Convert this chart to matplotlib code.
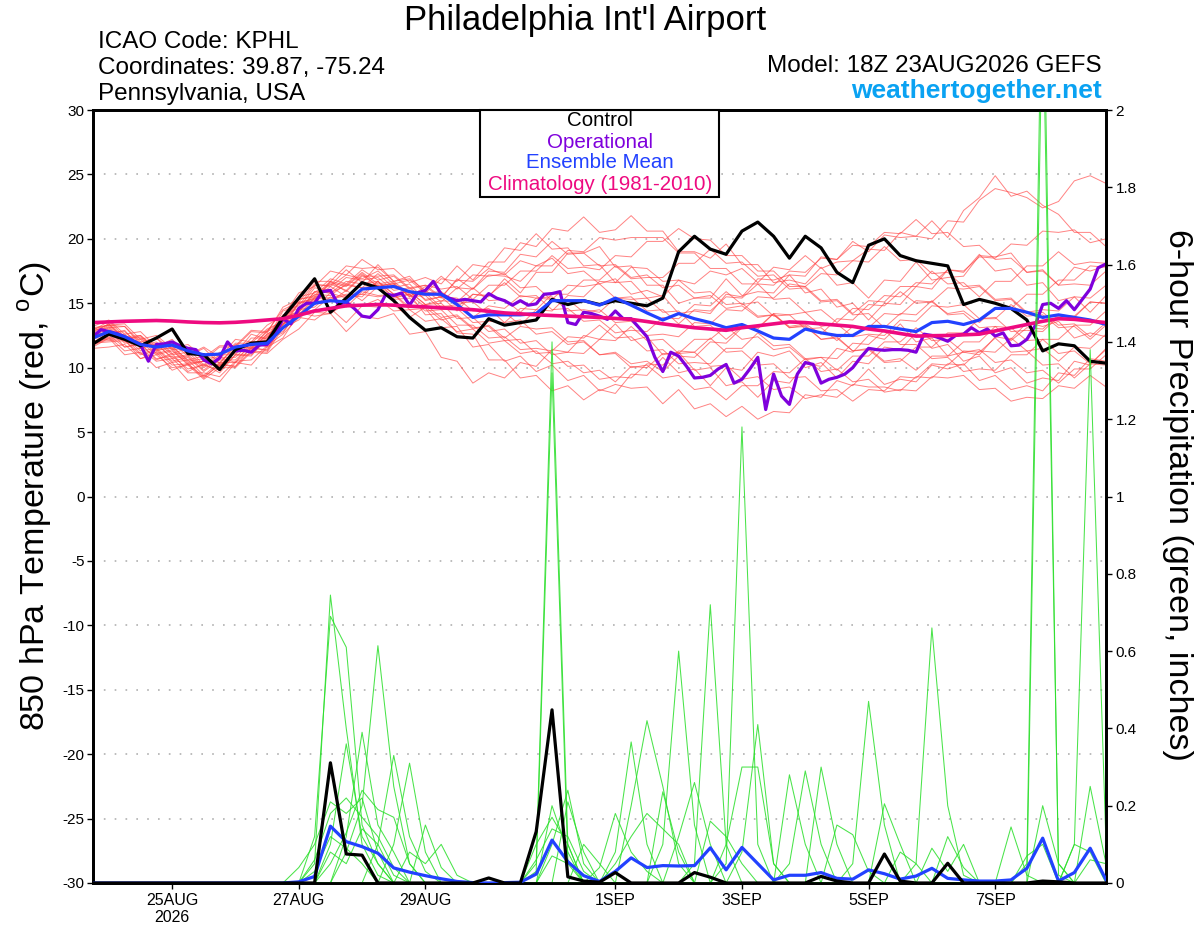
import numpy as np
import matplotlib
matplotlib.use('Agg')
import matplotlib.pyplot as plt
from matplotlib.patches import Rectangle
from matplotlib.ticker import FormatStrFormatter

# ---------------- data ----------------
t0 = np.datetime64('2026-08-23T18:00')
t6 = t0 + np.arange(65) * np.timedelta64(6, 'h')    # GEFS 6-hourly
t3 = t0 + np.arange(129) * np.timedelta64(3, 'h')   # operational 3-hourly

control_t = [11.85, 12.6, 12.2, 11.7, 12.3, 13.0, 11.1, 11.0, 9.85, 11.4,
             11.9, 12.0, 13.9, 15.4, 16.9, 14.3, 15.4, 16.6, 16.2, 15.2,
             13.9, 12.9, 13.1, 12.4, 12.3, 13.8, 13.3, 13.5, 13.7, 15.3,
             14.9, 15.2, 14.9, 15.2, 15.0, 14.8, 15.4, 19.0, 20.2, 19.2,
             18.8, 20.6, 21.3, 20.2, 18.5, 20.2, 19.3, 17.4, 16.6, 19.5,
             20.0, 18.7, 18.3, 18.1, 17.9, 14.9, 15.3, 15.0, 14.6, 13.7,
             11.3, 11.85, 11.7, 10.5, 10.35]

operational_t = [12.4, 12.95, 12.8, 12.65, 12.4, 12.1, 11.8, 10.5, 11.8, 11.85,
                 12.0, 11.7, 11.5, 11.4, 10.6, 10.3, 10.75, 12.0, 11.3, 11.35,
                 11.2, 11.75, 11.8, 12.5, 13.8, 13.4, 14.6, 15.0, 15.0, 15.9,
                 16.0, 14.9, 15.1, 14.6, 14.0, 13.9, 14.5, 15.7, 15.6, 15.8,
                 14.85, 15.8, 16.0, 16.7, 15.7, 15.4, 15.2, 15.3, 15.2, 15.1,
                 15.75, 15.4, 15.2, 14.85, 15.2, 14.85, 14.95, 15.7, 15.75, 15.9,
                 13.5, 13.35, 14.3, 14.2, 14.0, 13.75, 14.4, 13.8, 13.8, 13.1,
                 12.4, 10.8, 9.7, 11.2, 10.9, 10.1, 9.2, 9.25, 9.4, 9.9,
                 10.25, 8.8, 9.1, 9.9, 10.8, 6.75, 9.5, 7.8, 7.15, 9.5,
                 10.4, 10.25, 8.8, 9.1, 9.25, 9.5, 10.0, 10.8, 11.5, 11.4,
                 11.35, 11.4, 11.4, 11.35, 11.2, 12.6, 12.5, 12.3, 12.05, 12.5,
                 12.6, 13.1, 12.7, 13.0, 12.45, 12.7, 11.7, 11.75, 12.2, 13.2,
                 14.9, 15.0, 14.6, 15.2, 14.5, 15.3, 16.1, 17.75, 18.05]

mean_t = [12.3, 12.8, 12.4, 11.8, 11.6, 11.75, 11.3, 11.0, 11.05, 11.6,
          11.8, 11.9, 13.1, 14.0, 15.0, 15.2, 15.1, 16.1, 16.2, 16.3,
          15.9, 15.7, 15.7, 14.9, 13.9, 14.1, 14.1, 14.1, 14.2, 15.2,
          15.2, 15.2, 14.85, 15.4, 14.85, 14.25, 13.7, 14.2, 13.8, 13.5,
          13.1, 13.35, 12.85, 12.3, 12.2, 13.0, 12.7, 12.5, 12.5, 13.2,
          13.2, 13.0, 12.8, 13.5, 13.6, 13.35, 13.7, 14.6, 14.6, 14.3,
          13.9, 14.1, 13.9, 13.7, 13.35]

climatology_t = [13.5, 13.55, 13.6, 13.63, 13.66, 13.62, 13.55, 13.5, 13.48, 13.52,
                 13.6, 13.7, 13.8, 14.07, 14.4, 14.6, 14.8, 14.85, 14.9, 14.85,
                 14.77, 14.72, 14.64, 14.57, 14.5, 14.38, 14.25, 14.18, 14.1, 14.05,
                 14.0, 13.95, 13.9, 13.82, 13.75, 13.58, 13.4, 13.25, 13.1, 13.0,
                 12.9, 13.1, 13.25, 13.4, 13.55, 13.5, 13.4, 13.3, 13.2, 13.0,
                 12.85, 12.65, 12.45, 12.48, 12.5, 12.55, 12.6, 12.85, 13.1, 13.35,
                 13.6, 13.8, 13.75, 13.62, 13.5]

members_t = [
    [12.8, 13.4, 12.2, 12.5, 11.4, 11.9, 10.9, 11.5, 10.3, 11.8, 11.5, 12.9,
     13.6, 15.5, 15.8, 16.9, 16.5, 17.6, 16.8, 17.1, 16.1,
     16.4, 15.5, 16.8, 16.7, 17.7, 17.2, 18.3, 17.9, 18.5, 17.3, 17.5, 16.5,
     16.9, 15.7, 16.0, 15.5, 16.8, 16.5, 17.5, 17.2, 17.7, 16.6, 17.8, 17.6, 18.7, 17.7, 18.2, 18.3,
     19.2, 19.1, 20.5, 20.2, 21.4, 20.1, 22.2, 23.2, 24.9, 23.3, 23.7, 22.6, 21.9, 20.5, 20.5, 19.4],
    [12.5, 12.6, 12.9, 11.5, 11.9, 10.7, 10.9, 9.8, 10.8, 10.4, 12.0, 11.6,
     13.9, 14.3, 15.9, 15.8, 16.4, 16.2, 17.3, 16.2, 16.5,
     15.2, 15.5, 14.4, 15.7, 15.5, 16.9, 15.8, 17.4, 17.4, 18.9, 18.9, 19.4,
     17.8, 17.9, 16.4, 16.4, 15.0, 15.4, 15.4, 16.9, 15.6, 15.9, 15.8, 17.2, 17.1, 18.6, 18.4, 19.8,
     19.0, 20.3, 20.1, 20.2, 20.0, 21.4, 21.3, 23.0, 23.9, 23.6, 23.2, 22.4, 22.9, 24.5, 24.9, 24.3],
    [13.2, 13.7, 12.6, 12.8, 11.6, 12.2, 11.0, 11.6, 10.8, 12.2, 12.0, 13.3,
     14.0, 15.8, 16.3, 17.5, 17.2, 18.4, 17.6, 17.7, 16.6,
     17.0, 16.5, 17.9, 16.8, 18.2, 18.2, 19.7, 19.4, 20.8, 20.6, 21.7, 20.5,
     20.7, 21.8, 20.6, 20.6, 19.0, 19.0, 18.5, 19.6, 18.0, 18.0, 16.6, 16.8, 16.5, 17.8, 16.4, 16.6,
     15.4, 16.8, 16.7, 18.2, 16.8, 17.0, 17.1, 18.7, 18.6, 18.9, 17.4, 17.6, 16.4, 17.8, 17.5, 17.9],
    [11.6, 12.3, 11.0, 11.2, 10.0, 10.4, 9.0, 9.4, 8.9, 10.4, 10.2, 11.6,
     12.3, 14.2, 14.5, 15.5, 14.7, 15.9, 15.6, 15.7, 14.5,
     14.6, 13.1, 13.2, 11.6, 11.8, 10.5, 10.9, 9.7, 10.2, 9.0, 9.4, 8.2,
     8.7, 8.4, 8.5, 7.2, 8.3, 6.8, 7.2, 6.2, 7.0, 6.0, 6.6, 6.5, 7.9, 7.7, 9.0, 8.6,
     9.9, 8.7, 9.1, 8.9, 10.2, 9.9, 10.3, 9.0, 9.4, 8.3, 8.6, 8.2, 9.6, 9.4, 10.7, 10.5],
    [12.0, 12.1, 12.2, 10.7, 11.2, 9.8, 10.3, 9.2, 10.3, 10.1, 11.6, 11.3,
     13.4, 14.0, 15.4, 15.3, 15.6, 15.5, 16.7, 15.4, 15.7,
     14.1, 14.2, 12.7, 12.6, 10.6, 10.6, 9.2, 9.4, 8.2, 8.6, 7.5, 8.3,
     8.0, 9.5, 9.4, 10.8, 9.6, 9.9, 8.6, 10.0, 9.8, 11.2, 10.9, 11.3, 10.0, 10.4, 9.2, 10.5,
     10.3, 11.6, 11.4, 12.7, 11.5, 11.8, 10.5, 10.9, 9.6, 10.0, 8.8, 9.2, 9.0, 10.5, 10.2, 11.5],
    [12.2, 13.0, 11.6, 11.9, 10.6, 11.1, 9.7, 10.3, 9.6, 11.0, 10.9, 12.4,
     12.8, 14.3, 14.0, 14.2, 12.8, 14.0, 13.8, 14.2, 12.6,
     12.8, 10.8, 10.5, 8.8, 9.6, 9.2, 10.4, 10.1, 11.4, 11.2, 12.5, 12.2,
     13.4, 12.1, 12.4, 11.0, 11.2, 9.8, 10.0, 8.6, 8.9, 7.7, 9.0, 8.8, 10.3, 10.1, 11.5, 11.2,
     12.5, 12.2, 13.4, 12.0, 12.3, 10.9, 11.2, 11.0, 12.4, 12.2, 13.5, 13.2, 13.6, 12.3, 12.7, 12.4],
    [12.9, 13.1, 13.2, 11.8, 12.3, 11.1, 11.5, 10.2, 11.2, 11.1, 12.6, 12.2,
     14.4, 14.8, 16.4, 16.4, 17.6, 16.6, 18.0, 16.7, 17.1,
     15.8, 16.9, 16.7, 18.0, 17.8, 19.3, 19.1, 20.4, 19.2, 19.3, 17.9, 18.0,
     16.6, 16.7, 15.4, 15.6, 14.2, 14.4, 14.2, 15.7, 15.5, 16.9, 16.8, 17.2, 15.8, 16.1, 14.7, 15.0,
     13.7, 15.0, 14.9, 16.3, 16.1, 17.6, 17.4, 18.8, 17.5, 17.7, 16.4, 16.6, 15.2, 15.5, 14.3, 15.6],
    [12.6, 13.3, 12.2, 12.4, 11.4, 11.5, 10.4, 10.5, 10.2, 11.3, 11.4, 12.6,
     13.3, 15.1, 15.3, 16.3, 15.5, 16.6, 16.4, 16.5, 15.6,
     15.8, 14.7, 14.9, 13.9, 14.8, 14.6, 15.6, 15.4, 15.5, 14.4, 14.5, 14.3,
     15.4, 15.3, 15.4, 14.3, 14.4, 13.2, 13.3, 12.2, 13.2, 13.1, 14.2, 14.1, 14.3, 13.2, 13.4, 12.4,
     12.6, 12.5, 13.7, 13.6, 14.8, 14.7, 14.9, 13.8, 13.9, 12.8, 12.9, 12.8, 14.0, 13.9, 15.1, 15.0],
    [11.9, 12.0, 12.1, 11.0, 11.3, 10.2, 10.3, 9.3, 10.2, 10.1, 11.3, 11.2,
     13.1, 13.7, 15.2, 15.1, 16.0, 15.2, 16.3, 15.3, 15.4,
     14.4, 14.5, 13.3, 13.3, 12.3, 12.4, 11.4, 11.5, 11.3, 12.4, 12.3, 13.3,
     12.3, 12.4, 11.3, 11.4, 10.3, 10.4, 10.3, 11.5, 11.5, 12.7, 11.7, 11.8, 10.7, 10.8, 10.7, 11.9,
     11.8, 12.9, 11.8, 11.8, 10.7, 10.8, 9.7, 9.9, 9.8, 11.0, 11.0, 12.2, 12.2, 13.3, 13.3, 14.4],
    [12.4, 13.1, 11.9, 12.0, 11.0, 11.3, 10.3, 10.5, 10.1, 11.4, 11.3, 12.5,
     13.1, 15.0, 15.2, 16.7, 15.9, 17.1, 17.1, 17.2, 16.2,
     16.4, 16.1, 16.3, 15.3, 16.4, 16.4, 17.5, 17.5, 18.7, 17.7, 17.8, 17.6,
     18.7, 18.6, 19.8, 19.8, 20.8, 20.0, 19.9, 18.7, 18.7, 17.5, 17.5, 16.3, 16.3, 15.2, 15.3, 14.2,
     15.2, 15.1, 16.3, 16.3, 17.5, 16.5, 16.6, 15.5, 16.7, 16.7, 17.9, 17.9, 19.0, 18.0, 18.2, 18.1],
    [13.0, 13.3, 13.2, 12.0, 12.3, 11.4, 11.5, 10.6, 11.6, 11.6, 12.8, 12.7,
     14.7, 15.3, 16.7, 16.7, 17.9, 17.7, 17.8, 16.7, 16.9,
     16.0, 17.1, 16.1, 17.2, 17.1, 17.3, 16.2, 16.3, 15.2, 15.3, 14.3, 14.5,
     13.5, 13.6, 12.5, 12.6, 12.4, 13.5, 13.4, 14.5, 14.4, 15.5, 15.4, 16.5, 16.3, 17.3, 17.2, 18.3,
     18.2, 19.4, 18.3, 18.4, 17.3, 17.4, 16.3, 16.4, 15.3, 15.4, 14.3, 14.5, 14.4, 15.5, 15.4, 16.4],
    [11.7, 12.4, 11.3, 11.5, 10.5, 10.7, 9.6, 9.6, 9.3, 10.5, 10.6, 11.7,
     12.6, 13.9, 13.7, 14.6, 13.5, 14.8, 14.7, 14.9, 13.9,
     14.7, 13.7, 14.0, 13.0, 13.3, 12.3, 13.2, 13.0, 13.1, 12.0, 12.1, 11.0,
     11.1, 10.0, 10.2, 9.2, 9.4, 8.3, 8.5, 7.5, 8.6, 8.6, 9.7, 9.6, 10.7, 9.7, 9.9, 8.9,
     9.1, 8.1, 8.3, 8.2, 9.3, 9.2, 9.4, 8.3, 8.4, 7.4, 7.7, 7.6, 8.6, 8.4, 9.4, 8.5],
    [12.3, 12.3, 12.4, 11.3, 11.5, 10.5, 10.8, 9.7, 10.6, 10.6, 11.7, 11.8,
     13.6, 14.3, 15.7, 15.6, 16.5, 16.2, 16.4, 15.5, 15.7,
     14.7, 14.8, 14.7, 15.7, 15.6, 16.6, 15.5, 15.6, 14.5, 14.6, 13.6, 13.7,
     12.7, 12.9, 12.8, 13.9, 13.8, 14.9, 14.8, 15.9, 14.9, 15.1, 14.0, 14.1, 13.0, 13.1, 12.1, 13.2,
     13.1, 14.2, 14.1, 15.2, 15.1, 16.2, 16.1, 16.3, 15.2, 15.3, 14.2, 14.3, 13.3, 13.4, 12.4, 13.5],
    [12.7, 13.4, 12.3, 12.3, 11.3, 11.6, 10.6, 10.9, 10.7, 11.9, 11.9, 13.0,
     13.6, 15.3, 15.5, 16.6, 16.3, 17.3, 16.3, 16.5, 15.5,
     15.6, 14.5, 14.6, 13.5, 13.6, 13.5, 14.6, 14.5, 15.7, 15.7, 16.8, 16.8,
     17.9, 16.9, 17.0, 17.0, 18.1, 18.1, 19.2, 18.1, 18.2, 17.1, 17.2, 16.1, 16.2, 15.1, 15.2, 14.1,
     14.2, 13.1, 14.2, 14.1, 15.2, 14.1, 14.2, 13.1, 13.2, 12.1, 13.1, 13.0, 14.1, 14.0, 15.1, 15.0],
    [12.1, 12.2, 12.3, 11.1, 11.4, 10.4, 10.6, 9.4, 10.4, 10.4, 11.5, 11.4,
     13.4, 14.1, 15.5, 15.4, 15.7, 15.7, 16.7, 15.7, 15.9,
     14.9, 15.0, 13.8, 13.9, 12.8, 13.0, 11.9, 12.1, 11.0, 11.2, 11.1, 12.2,
     12.1, 13.2, 12.1, 12.2, 11.1, 11.2, 10.1, 10.2, 9.1, 9.3, 8.3, 8.5, 7.6, 7.9, 7.7, 8.7,
     8.5, 8.5, 8.2, 9.3, 9.2, 10.3, 10.2, 11.3, 11.2, 12.3, 11.3, 11.5, 10.5, 11.6, 11.5, 12.6],
    [12.9, 13.6, 12.4, 12.5, 11.5, 11.7, 10.5, 10.7, 10.4, 11.6, 11.6, 12.8,
     13.4, 15.3, 15.6, 16.7, 16.4, 17.4, 16.5, 16.7, 15.7,
     16.0, 15.1, 16.2, 16.1, 17.2, 17.1, 16.7, 17.9, 17.9, 19.1, 19.0, 20.1,
     19.9, 20.1, 20.1, 20.1, 18.9, 18.9, 17.7, 17.7, 16.5, 16.5, 15.3, 15.4, 14.3, 14.5, 13.5, 14.6,
     14.5, 15.6, 15.5, 16.6, 16.5, 17.6, 17.5, 18.6, 18.5, 19.6, 19.5, 20.6, 20.5, 20.7, 19.7, 20.0],
    [12.4, 12.5, 12.6, 11.5, 11.8, 10.8, 11.0, 10.0, 10.8, 10.8, 12.0, 12.1,
     13.8, 14.4, 15.9, 15.8, 16.7, 16.5, 16.7, 15.7, 15.9,
     14.9, 15.2, 15.1, 16.2, 15.2, 15.3, 14.3, 15.4, 15.3, 16.4, 16.3, 16.5,
     15.4, 15.5, 14.4, 14.5, 13.4, 14.5, 14.4, 15.5, 15.4, 16.5, 16.4, 17.5, 17.4, 18.5, 18.4, 19.5,
     19.4, 20.5, 20.4, 21.5, 20.4, 20.5, 19.4, 19.5, 18.4, 18.5, 17.4, 17.5, 16.4, 16.5, 16.4, 17.5],
    [11.8, 12.5, 11.6, 11.8, 10.7, 10.9, 9.9, 10.2, 9.8, 11.0, 11.0, 12.2,
     12.7, 14.5, 14.7, 15.8, 15.4, 15.7, 15.5, 15.7, 14.7,
     14.9, 13.9, 14.1, 13.1, 13.2, 12.1, 12.2, 11.1, 11.2, 10.1, 10.2, 9.1,
     9.3, 9.2, 10.3, 10.2, 11.3, 11.2, 12.3, 11.2, 11.3, 10.2, 10.3, 9.2, 9.3, 8.2, 8.3, 7.4,
     8.3, 8.2, 9.3, 9.2, 10.3, 10.2, 11.3, 11.2, 12.3, 11.2, 11.3, 10.2, 10.3, 9.2, 10.3, 10.2],
    [12.6, 12.7, 12.8, 11.7, 12.0, 11.0, 11.2, 10.1, 11.0, 11.0, 12.3, 12.3,
     14.1, 14.6, 16.2, 16.0, 17.0, 16.8, 17.0, 16.0, 16.2,
     15.3, 15.5, 15.4, 14.4, 14.6, 13.5, 13.7, 12.6, 12.8, 11.8, 12.0, 11.0,
     11.2, 10.3, 10.5, 9.7, 10.9, 10.8, 12.0, 11.9, 13.1, 13.0, 14.2, 13.1, 13.3, 12.2, 12.4, 11.3,
     11.5, 10.5, 10.7, 9.8, 10.9, 10.9, 12.0, 12.0, 13.2, 13.1, 12.1, 12.2, 11.1, 11.3, 10.3, 11.4],
    [12.5, 13.2, 12.0, 12.2, 11.1, 11.4, 10.2, 10.5, 10.1, 11.3, 11.5, 12.6,
     13.3, 15.0, 15.4, 16.5, 16.0, 17.2, 16.3, 16.6, 15.5,
     16.3, 15.4, 16.9, 16.1, 17.5, 17.4, 18.8, 18.6, 19.8, 18.8, 18.9, 17.9,
     18.0, 17.0, 17.2, 16.2, 16.4, 15.4, 15.6, 14.6, 14.8, 13.9, 14.1, 13.2, 13.4, 12.6, 13.8, 13.7,
     14.9, 14.8, 15.9, 15.0, 15.1, 14.2, 14.4, 13.5, 14.6, 14.6, 15.7, 15.7, 16.8, 16.8, 17.9, 17.8],
    [11.5, 11.6, 11.8, 10.7, 11.0, 10.0, 10.2, 9.1, 10.0, 10.0, 11.2, 11.1,
     12.2, 13.0, 14.3, 14.2, 15.0, 14.8, 15.3, 14.4, 14.5,
     13.6, 13.8, 12.8, 13.0, 11.9, 12.1, 11.1, 11.3, 10.3, 10.5, 9.6, 9.8,
     8.9, 10.1, 10.0, 11.1, 11.1, 12.2, 12.2, 13.2, 12.2, 12.4, 11.4, 11.6, 10.6, 10.8, 9.8, 10.9,
     10.9, 12.0, 12.0, 13.1, 12.1, 12.2, 11.2, 11.4, 10.4, 10.6, 9.6, 9.8, 8.8, 9.9, 9.9, 11.0],
    [13.1, 13.3, 13.4, 12.2, 12.5, 11.5, 11.8, 10.8, 11.7, 11.7, 12.9, 12.8,
     14.5, 15.1, 16.5, 16.3, 17.2, 16.9, 17.5, 16.5, 16.8,
     15.8, 15.9, 15.0, 15.1, 14.1, 14.3, 13.3, 14.5, 14.4, 15.6, 15.5, 16.7,
     16.6, 17.8, 17.7, 16.7, 16.8, 15.8, 15.9, 14.9, 15.0, 14.0, 14.1, 13.1, 13.2, 12.2, 12.3, 11.3,
     11.4, 10.4, 10.5, 11.6, 11.6, 12.7, 12.7, 13.8, 13.8, 14.9, 14.0, 14.1, 13.1, 13.2, 12.2, 13.3],
]

control_p = [0, 0, 0, 0, 0, 0, 0, 0, 0, 0,
             0, 0, 0, 0, 0, 0.311, 0.075, 0.072, 0, 0,
             0, 0, 0, 0, 0, 0.013, 0, 0, 0.133, 0.448,
             0.016, 0.005, 0.002, 0.027, 0, 0, 0, 0, 0.027, 0.015,
             0, 0, 0, 0, 0, 0, 0.017, 0.005, 0, 0,
             0.075, 0.005, 0, 0, 0.051, 0, 0, 0, 0, 0,
             0.005, 0.003, 0, 0, 0]

mean_p = [0, 0, 0, 0, 0, 0, 0, 0, 0, 0,
          0, 0, 0, 0.003, 0.017, 0.147, 0.107, 0.094, 0.077, 0.039,
          0.028, 0.019, 0.011, 0.004, 0.001, 0, 0.001, 0.002, 0.023, 0.111,
          0.055, 0.019, 0.004, 0.030, 0.065, 0.040, 0.045, 0.044, 0.045, 0.091,
          0.034, 0.092, 0.050, 0.008, 0.020, 0.020, 0.027, 0.012, 0.010, 0.034,
          0.024, 0.010, 0.018, 0.038, 0.012, 0.008, 0.005, 0.005, 0.008, 0.038,
          0.116, 0.005, 0.027, 0.090, 0.008]

members_p = [
    [0, 0, 0, 0, 0, 0, 0, 0, 0, 0,
     0, 0, 0, 0, 0.05, 0.745, 0.40, 0.10, 0.02, 0,
     0, 0, 0, 0, 0, 0, 0, 0, 0.05, 1.40,
     0.10, 0, 0, 0, 0, 0, 0, 0, 0, 0,
     0.05, 1.18, 0.10, 0, 0, 0, 0, 0, 0, 0,
     0, 0, 0, 0, 0, 0, 0, 0, 0, 0.05,
     2.5, 0.02, 0, 0, 0],
    [0, 0, 0, 0, 0, 0, 0, 0, 0, 0,
     0, 0, 0, 0, 0.12, 0.69, 0.61, 0.15, 0.05, 0,
     0, 0, 0, 0, 0, 0, 0, 0, 0, 0.20,
     0.08, 0, 0, 0, 0, 0, 0, 0, 0.05, 0.72,
     0.10, 0, 0, 0, 0, 0, 0, 0, 0, 0,
     0, 0, 0, 0, 0, 0, 0, 0, 0, 0,
     2.3, 0.05, 0, 0, 0],
    [0, 0, 0, 0, 0, 0, 0, 0, 0, 0,
     0, 0, 0, 0, 0, 0, 0.08, 0.20, 0.614, 0.25,
     0.05, 0, 0, 0, 0, 0, 0, 0, 0.03, 1.32,
     0.06, 0, 0, 0, 0, 0, 0.10, 0.60, 0.15, 0,
     0, 0, 0, 0, 0, 0, 0, 0, 0, 0,
     0, 0, 0, 0, 0, 0, 0, 0, 0, 0,
     0, 0, 0.10, 1.38, 0.10],
    [0, 0, 0, 0, 0, 0, 0, 0, 0, 0,
     0, 0, 0, 0, 0, 0.10, 0.36, 0.12, 0.05, 0,
     0, 0, 0, 0, 0, 0, 0, 0, 0.10, 0.17,
     0.10, 0, 0, 0, 0.20, 0.42, 0.25, 0.05, 0, 0,
     0, 0, 0, 0, 0, 0, 0, 0, 0, 0,
     0, 0, 0, 0, 0, 0, 0, 0, 0.145, 0.02,
     0, 0, 0, 0, 0],
    [0, 0, 0, 0, 0, 0, 0, 0, 0, 0,
     0, 0, 0, 0, 0, 0, 0.12, 0.39, 0.15, 0.08,
     0, 0, 0, 0, 0, 0, 0, 0, 0, 0.10,
     0.24, 0.05, 0, 0.08, 0.365, 0.10, 0, 0, 0, 0,
     0, 0, 0, 0, 0, 0, 0, 0, 0, 0,
     0, 0, 0, 0, 0, 0, 0, 0, 0, 0,
     0.20, 0.05, 0, 0, 0],
    [0, 0, 0, 0, 0, 0, 0, 0, 0, 0,
     0, 0, 0, 0, 0, 0, 0, 0, 0.10, 0.33,
     0.12, 0.03, 0, 0, 0, 0, 0, 0, 0, 0,
     0.21, 0.08, 0, 0, 0, 0, 0, 0, 0, 0,
     0, 0.08, 0.41, 0.05, 0, 0, 0, 0, 0, 0,
     0, 0, 0, 0, 0, 0, 0, 0, 0, 0,
     0, 0, 0, 0.25, 0.05],
    [0, 0, 0, 0, 0, 0, 0, 0, 0, 0,
     0, 0, 0, 0, 0, 0, 0, 0, 0, 0.10,
     0.31, 0.08, 0, 0, 0, 0, 0, 0, 0.06, 0.14,
     0.12, 0.03, 0, 0, 0, 0, 0.236, 0.08, 0, 0,
     0, 0, 0, 0, 0, 0, 0, 0, 0.05, 0.47,
     0.15, 0, 0, 0, 0, 0, 0, 0, 0, 0,
     0, 0, 0, 0, 0],
    [0, 0, 0, 0, 0, 0, 0, 0, 0, 0,
     0, 0, 0, 0.04, 0.10, 0.21, 0.18, 0.22, 0.08, 0,
     0, 0, 0, 0, 0, 0, 0, 0, 0, 0.07,
     0.05, 0, 0, 0, 0, 0, 0, 0.12, 0.26, 0.10,
     0, 0, 0, 0, 0, 0, 0, 0, 0, 0,
     0, 0, 0.05, 0.66, 0.20, 0.02, 0, 0, 0, 0,
     0, 0, 0, 0, 0],
    [0, 0, 0, 0, 0, 0, 0, 0, 0, 0,
     0, 0, 0, 0, 0.06, 0.18, 0.22, 0.17, 0.12, 0.04,
     0, 0, 0, 0, 0, 0, 0, 0, 0, 0,
     0, 0.10, 0.05, 0, 0, 0, 0, 0, 0, 0,
     0.10, 0.30, 0.30, 0.05, 0, 0, 0, 0, 0, 0,
     0, 0, 0, 0, 0, 0, 0, 0, 0, 0,
     0, 0, 0.10, 0.08, 0],
    [0, 0, 0, 0, 0, 0, 0, 0, 0, 0,
     0, 0, 0, 0, 0, 0.05, 0.13, 0.24, 0.19, 0.17,
     0.05, 0, 0, 0, 0, 0, 0, 0, 0, 0,
     0, 0, 0, 0, 0, 0, 0, 0, 0, 0,
     0, 0, 0, 0, 0.28, 0.10, 0, 0, 0, 0,
     0.205, 0.10, 0, 0, 0, 0, 0, 0, 0, 0,
     0, 0, 0, 0, 0],
    [0, 0, 0, 0, 0, 0, 0, 0, 0, 0,
     0, 0, 0, 0, 0, 0, 0, 0, 0, 0,
     0, 0.15, 0.04, 0, 0, 0, 0, 0, 0, 0,
     0, 0, 0, 0, 0, 0, 0, 0, 0, 0,
     0, 0, 0, 0, 0.05, 0.29, 0.10, 0, 0, 0,
     0, 0, 0, 0.09, 0.03, 0.10, 0, 0, 0, 0,
     0, 0, 0, 0, 0],
    [0, 0, 0, 0, 0, 0, 0, 0, 0, 0,
     0, 0, 0, 0, 0, 0, 0, 0, 0, 0,
     0.08, 0.05, 0.10, 0.02, 0, 0, 0, 0, 0, 0,
     0, 0, 0, 0, 0, 0, 0, 0, 0, 0,
     0, 0, 0, 0, 0, 0, 0.30, 0.10, 0, 0,
     0, 0.08, 0.05, 0, 0, 0, 0, 0, 0, 0,
     0, 0, 0, 0, 0],
    [0, 0, 0, 0, 0, 0, 0, 0, 0, 0,
     0, 0, 0, 0, 0, 0.08, 0.05, 0.14, 0.10, 0.02,
     0, 0, 0, 0, 0, 0, 0, 0, 0, 0,
     0, 0, 0, 0, 0, 0, 0, 0, 0, 0,
     0, 0, 0, 0, 0, 0, 0, 0.15, 0.125, 0.03,
     0, 0, 0, 0, 0.12, 0.04, 0, 0, 0, 0,
     0, 0, 0, 0, 0],
    [0, 0, 0, 0, 0, 0, 0, 0, 0, 0,
     0, 0, 0, 0, 0.03, 0.12, 0.09, 0.05, 0, 0,
     0, 0, 0, 0, 0, 0, 0, 0, 0, 0,
     0, 0, 0, 0.05, 0.12, 0.18, 0.14, 0.10, 0, 0,
     0, 0, 0, 0, 0, 0, 0, 0, 0, 0,
     0, 0, 0, 0, 0, 0, 0, 0, 0, 0.07,
     0.10, 0, 0, 0, 0],
    [0, 0, 0, 0, 0, 0, 0, 0, 0, 0,
     0, 0, 0, 0, 0, 0, 0, 0, 0, 0,
     0, 0, 0, 0, 0, 0, 0, 0, 0, 0,
     0, 0, 0.04, 0.18, 0.08, 0.03, 0, 0, 0, 0.16,
     0.12, 0.05, 0, 0, 0, 0, 0, 0, 0, 0,
     0, 0, 0, 0, 0, 0, 0, 0, 0, 0,
     0, 0, 0, 0.06, 0.05],
]

tick_dates = ['2026-08-25T00', '2026-08-27T00', '2026-08-29T00', '2026-09-01T00',
              '2026-09-03T00', '2026-09-05T00', '2026-09-07T00']
tick_labels = ['25AUG\n2026', '27AUG', '29AUG', '1SEP', '3SEP', '5SEP', '7SEP']
temp_ticks = [-30, -25, -20, -15, -10, -5, 0, 5, 10, 15, 20, 25, 30]
precip_ticks = [0, 0.2, 0.4, 0.6, 0.8, 1.0, 1.2, 1.4, 1.6, 1.8, 2.0]

# ---------------- style ----------------
plt.rcParams['font.family'] = ['Liberation Sans', 'DejaVu Sans']
plt.rcParams['axes.unicode_minus'] = False
plt.rcParams['mathtext.fontset'] = 'custom'
plt.rcParams['mathtext.rm'] = 'Liberation Sans'

W, H = 1200, 927
fig = plt.figure(figsize=(12, 9.27), dpi=100)
ax = fig.add_axes([93 / W, (H - 883) / H, (1106 - 93) / W, (883 - 110) / H])
ax2 = ax.twinx()

C_CTRL = 'black'
C_OPER = '#7f00dc'
C_MEAN = '#2241ff'
C_CLIM = '#ee0a80'
C_RED = '#ff4040'
C_GREEN = '#2adf2a'

# temperature (left axis)
for v in temp_ticks[1:-1]:
    ax.axhline(v, color='#b0b0b0', lw=1.2, ls=(0, (1, 5.5)), zorder=0.5)
for m in members_t:
    ax.plot(t6, m, color=C_RED, lw=0.7, alpha=0.65, zorder=1)
ax.plot(t3, operational_t, color=C_OPER, lw=2.3, zorder=3)
ax.plot(t6, control_t, color=C_CTRL, lw=2.3, zorder=3)
ax.plot(t6, mean_t, color=C_MEAN, lw=2.3, zorder=4)
ax.plot(t6, climatology_t, color=C_CLIM, lw=2.6, zorder=5)

ax.set_ylim(-30, 30)
ax.set_yticks(temp_ticks)
ax.set_xlim(t6[0], t6[-1])
ax.set_xticks([np.datetime64(d) for d in tick_dates])
ax.set_xticklabels(tick_labels, fontsize=11.5, linespacing=1.15)

# precipitation (right axis)
for m in members_p:
    ax2.plot(t6, m, color=C_GREEN, lw=0.75, alpha=0.85, zorder=1)
ax2.plot(t6, mean_p, color=C_MEAN, lw=2.3, zorder=3)
ax2.plot(t6, control_p, color=C_CTRL, lw=2.3, zorder=4)
ax2.set_ylim(0, 2)
ax2.set_yticks(precip_ticks)
ax2.yaxis.set_major_formatter(FormatStrFormatter('%g'))

for a in (ax, ax2):
    for s in a.spines.values():
        s.set_linewidth(2.0)
ax.tick_params(axis='y', direction='out', length=4, width=1, labelsize=11, pad=2)
ax.tick_params(axis='x', direction='out', length=4, width=1, pad=3)
ax2.tick_params(axis='y', direction='out', length=4, width=1, labelsize=11, pad=3)

# axis titles
fig.text(35 / W, 1 - 496 / H, '850 hPa Temperature (red, $^\\mathregular{o}$C)',
         rotation=90, ha='center', va='center', fontsize=24.5)
fig.text(1178 / W, 1 - 495 / H, '6-hour Precipitation (green, inches)',
         rotation=270, ha='center', va='center', fontsize=24.5)

# header
fig.text(585 / W, 1 - 30 / H, "Philadelphia Int'l Airport", ha='center', va='baseline', fontsize=25)
fig.text(98 / W, 1 - 48 / H, 'ICAO Code: KPHL', ha='left', va='baseline', fontsize=17.5)
fig.text(98 / W, 1 - 74 / H, 'Coordinates: 39.87, -75.24', ha='left', va='baseline', fontsize=17.5)
fig.text(98 / W, 1 - 100 / H, 'Pennsylvania, USA', ha='left', va='baseline', fontsize=17.5)
fig.text(1102 / W, 1 - 72 / H, 'Model: 18Z 23AUG2026 GEFS', ha='right', va='baseline', fontsize=17.5)
fig.text(1102 / W, 1 - 98 / H, 'weathertogether.net', ha='right', va='baseline',
         fontsize=19, fontweight='bold', color='#0aa2f2')

# legend box
fig.patches.append(Rectangle((480 / W, 1 - 197 / H), 239 / W, 87 / H, transform=fig.transFigure,
                             facecolor='white', edgecolor='black', lw=1.5, zorder=10))
leg = [('Control', C_CTRL, 121), ('Operational', C_OPER, 142),
       ('Ensemble Mean', C_MEAN, 163), ('Climatology (1981-2010)', C_CLIM, 185)]
for txt, col, yy in leg:
    fig.text(600 / W, 1 - yy / H, txt, ha='center', va='center', fontsize=14.8, color=col, zorder=11)

fig.savefig('out.png', dpi=100)
